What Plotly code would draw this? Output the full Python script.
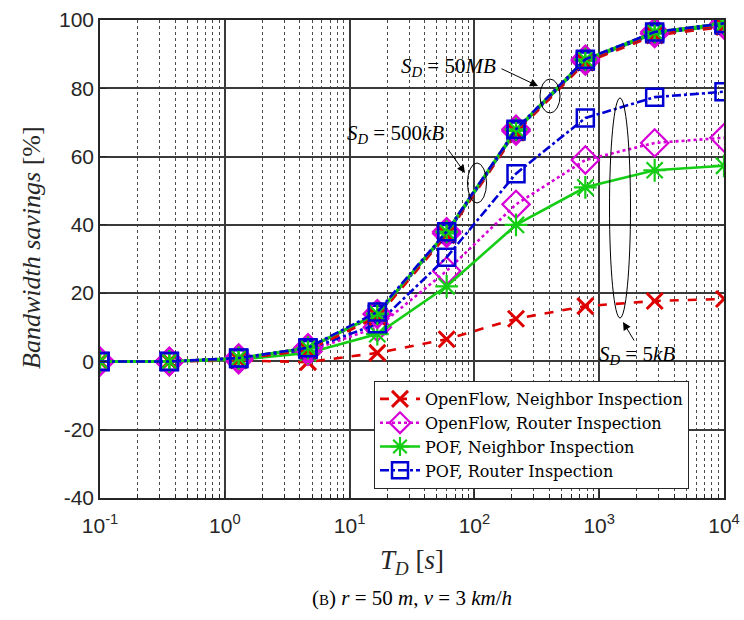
import plotly.graph_objects as go

# ---- data ----
t_d = [0.1, 0.3594, 1.2915, 4.6416, 16.681, 59.948, 215.44, 774.26, 2782.6, 10000]

series_names = ["OpenFlow, Neighbor Inspection", "OpenFlow, Router Inspection",
                "POF, Neighbor Inspection", "POF, Router Inspection"]

# S_D = 5kB
of_nb_5k = [0, 0, 0.3, -0.2, 2.5, 6.5, 12.5, 16.2, 17.7, 18.3]
of_rt_5k = [0, 0, 0.5, 3.0, 10.0, 26.5, 46.0, 59.0, 64.0, 65.5]
pof_nb_5k = [0, 0, 0.5, 2.5, 8.0, 22.0, 40.0, 51.0, 56.0, 57.3]
pof_rt_5k = [0, 0, 0.8, 3.5, 11.0, 30.5, 55.0, 71.3, 77.4, 79.0]

# S_D = 500kB
of_nb_500k = [0, 0, 0.7, 3.3, 13.0, 37.0, 67.0, 87.5, 95.5, 98.0]
of_rt_500k = [0, 0, 0.9, 3.8, 13.8, 37.5, 67.5, 88.0, 96.0, 98.5]
pof_nb_500k = [0, 0, 0.9, 3.8, 13.8, 37.5, 67.5, 88.0, 96.0, 98.5]
pof_rt_500k = [0, 0, 0.9, 3.8, 13.8, 37.5, 67.5, 88.0, 96.0, 98.5]

# S_D = 50MB
of_nb_50m = [0, 0, 0.8, 3.5, 13.5, 37.5, 67.5, 88.0, 96.0, 98.5]
of_rt_50m = [0, 0, 1.0, 4.0, 14.0, 38.0, 68.0, 88.5, 96.5, 99.0]
pof_nb_50m = [0, 0, 1.0, 4.0, 14.0, 38.0, 68.0, 88.5, 96.5, 99.0]
pof_rt_50m = [0, 0, 1.0, 4.0, 14.5, 38.0, 68.0, 88.5, 96.5, 99.0]

x_ticks = [0.1, 1, 10, 100, 1000, 10000]
x_ticktext = ["10<sup>-1</sup>", "10<sup>0</sup>", "10<sup>1</sup>", "10<sup>2</sup>",
              "10<sup>3</sup>", "10<sup>4</sup>"]
x_minor = [m * 10 ** e for e in range(-1, 4) for m in range(2, 10)]
y_ticks = [-40, -20, 0, 20, 40, 60, 80, 100]
y_ticktext = ["-40", "-20", "0", "20", "40", "60", "80", "100"]

# ---- styles ----
RED = "rgb(222,0,0)"
MAG = "rgb(215,0,215)"
GRN = "rgb(20,205,20)"
BLU = "rgb(0,0,210)"

styles = [
    dict(color=RED, dash="dash", symbol="x-thin-open", size=16, mlw=3),
    dict(color=MAG, dash="dot", symbol="diamond-open", size=21, mlw=2.2),
    dict(color=GRN, dash="solid", symbol="asterisk-open", size=19, mlw=2.2),
    dict(color=BLU, dash="dashdot", symbol="square-open", size=17, mlw=2.5),
]

sets = [
    [of_nb_5k, of_rt_5k, pof_nb_5k, pof_rt_5k],
    [of_nb_500k, of_rt_500k, pof_nb_500k, pof_rt_500k],
    [of_nb_50m, of_rt_50m, pof_nb_50m, pof_rt_50m],
]

fig = go.Figure()
for si, s in enumerate(sets):
    for k, ys in enumerate(s):
        st = styles[k]
        fig.add_trace(go.Scatter(
            x=t_d, y=ys, mode="lines+markers",
            name=series_names[k], showlegend=(si == 0), legendrank=k,
            line=dict(color=st["color"], dash=st["dash"], width=2.6),
            marker=dict(symbol=st["symbol"], size=st["size"], color=st["color"],
                        line=dict(color=st["color"], width=st["mlw"])),
        ))

AX = "#262626"
GRID = "#3a3a3a"
L, R, T, B = 100, 20, 20, 122
W, H = 744, 620
PW, PH = W - L - R, H - T - B


def px(xp):
    return (xp - L) / PW


def py(yp):
    return (H - B - yp) / PH


fig.update_layout(
    width=W, height=H,
    margin=dict(l=L, r=R, t=T, b=B, autoexpand=False),
    paper_bgcolor="white", plot_bgcolor="white",
    showlegend=True,
    legend=dict(x=px(374), y=py(381), xanchor="left", yanchor="top",
                bgcolor="white", bordercolor=AX, borderwidth=1,
                font=dict(family="DejaVu Serif", size=16, color="black"),
                tracegroupgap=0, itemwidth=40),
    xaxis=dict(type="log", range=[-1, 4], tickvals=x_ticks, ticktext=x_ticktext,
               automargin=False,
               ticks="inside", ticklen=7, tickwidth=1.3, tickcolor=AX,
               ticklabelstandoff=8,
               showline=True, linecolor=AX, linewidth=1.6, mirror=True,
               showgrid=True, gridcolor=GRID, gridwidth=1.6,
               minor=dict(tickvals=x_minor, showgrid=True, gridcolor="#4a4a4a",
                          griddash="dot", gridwidth=1.2, ticks="inside",
                          ticklen=4, tickcolor=AX),
               tickfont=dict(family="Liberation Sans", size=21, color=AX),
               zeroline=False),
    yaxis=dict(range=[-40, 100], tickvals=y_ticks, ticktext=y_ticktext,
               automargin=False,
               ticks="inside", ticklen=7, tickwidth=1.3, tickcolor=AX,
               showline=True, linecolor=AX, linewidth=1.6, mirror=True,
               showgrid=True, gridcolor=GRID, gridwidth=1.6,
               tickfont=dict(family="Liberation Sans", size=21, color=AX),
               zeroline=False),
)

# axis titles
fig.add_annotation(x=px(412), y=py(562), xref="paper", yref="paper",
                   text="<i>T</i><sub><i>D</i></sub> [<i>s</i>]", showarrow=False,
                   xanchor="center", yanchor="middle",
                   font=dict(family="Liberation Serif", size=27, color=AX))
fig.add_annotation(x=px(31), y=py(248), xref="paper", yref="paper",
                   text="<i>Bandwidth savings</i> [%]", showarrow=False, textangle=-90,
                   xanchor="center", yanchor="middle",
                   font=dict(family="Liberation Serif", size=26, color=AX))

# ellipses (annotation decorations)
ell = [(550, 96, 20, 34), (477, 183, 19, 40), (620, 208, 21, 220)]
for cx, cy, w, h in ell:
    fig.add_shape(type="circle", xref="paper", yref="paper",
                  x0=px(cx - w / 2), x1=px(cx + w / 2),
                  y0=py(cy + h / 2), y1=py(cy - h / 2),
                  line=dict(color="black", width=1))

# arrows
arrows = [(538, 86, -38, -18), (465, 173, -18, -25), (623, 322, 12, 20)]
for tx, ty, axp, ayp in arrows:
    fig.add_annotation(x=px(tx), y=py(ty), xref="paper", yref="paper", text="",
                       showarrow=True, arrowhead=2, arrowsize=1.6, arrowwidth=1,
                       arrowcolor="black", ax=axp, ay=ayp)

labels = [
    (448, 67, "<i>S</i><sub><i>D</i></sub> = 50<i>MB</i>"),
    (395, 134, "<i>S</i><sub><i>D</i></sub> = 500<i>kB</i>"),
    (637, 355, "<i>S</i><sub><i>D</i></sub> = 5<i>kB</i>"),
]
for lx, ly, txt in labels:
    fig.add_annotation(x=px(lx), y=py(ly), xref="paper", yref="paper", text=txt,
                       showarrow=False, xanchor="center", yanchor="middle",
                       font=dict(family="Liberation Serif", size=21, color="black"))

# caption
fig.add_annotation(x=0.5, y=py(598), xref="paper", yref="paper",
                   text="(<span style='font-size:15px'>B</span>) <i>r</i> = 50 <i>m</i>, "
                        "<i>v</i> = 3 <i>km</i>/<i>h</i>",
                   showarrow=False, xanchor="center", yanchor="middle",
                   font=dict(family="Liberation Serif", size=21, color="black"))

fig.write_html("out.html")
